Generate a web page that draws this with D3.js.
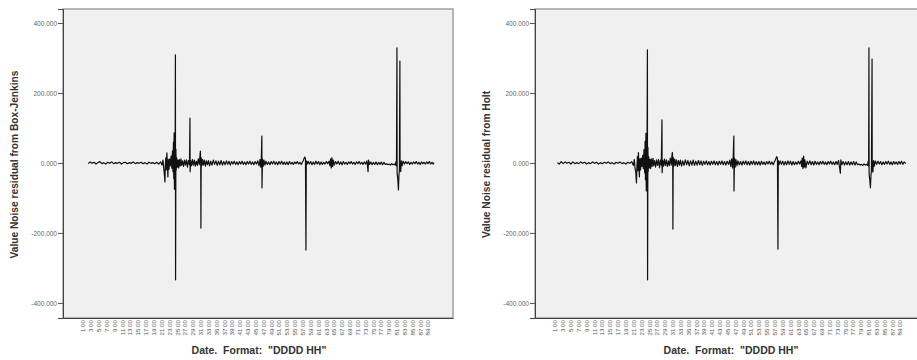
<!DOCTYPE html>
<html><head><meta charset="utf-8">
<script src="https://cdn.jsdelivr.net/npm/d3@7"></script>
<style>body{margin:0;background:#fff}svg{display:block}</style>
</head><body>
<svg id="chart" width="917" height="360"></svg>
<script>
// Hours since start of the series (x) and residual value (thousands, shown as 400.000 etc.)
const bjSeries = [[32,-2],[44,3],[56,-1],[68,2],[80,-3],[92,1],[104,4],[116,-2],[128,1],[140,-3],[152,2],[164,-1],[176,3],[188,-2],[200,1],[212,-1],[224,2],[236,-3],[248,1],[260,2],[272,-2],[284,1],[296,-1],[308,3],[320,-2],[332,1],[344,-1],[356,2],[368,-2],[380,1],[392,-3],[404,2],[416,-1],[428,1],[440,-2],[452,2],[464,-3],[476,3],[484,-6],
[490,8],[494,-12],[498,-30],[502,-54],[504,-10],[507,15],[510,-20],[514,29],[517,-5],[520,-40],[523,10],[527,-18],[531,12],[535,-8],[540,20],[544,-15],[548,35],[551,-25],[554,60],[556,-45],[558,86],[560,-75],[562,70],[564,-30],[566,309],[567,-334],[569,40],[571,-20],[574,15],[578,-12],[582,8],[586,-14],[590,10],[595,-9],[600,12],[605,-7],[610,6],[616,-10],[622,8],[628,-6],[634,9],[640,-12],[646,7],[652,-5],[655,128],[656,-25],[660,6],[665,-8],[670,10],[676,-6],[682,8],[688,-9],[694,5],[700,-7],[706,12],[712,-5],[716,20],[719,34],[721,-10],[722,-186],[724,15],[728,-8],[733,10],[738,-6],[744,8],[750,-9],[756,6],[762,-5],[768,7],[775,-8],[782,5],[790,-6],[798,8],[806,-4],[814,6],[822,-7],[830,5],[838,-5],[846,7],[854,-6],[862,4],[870,-5],[878,6],[886,-4],[894,5],[902,-6],[910,4],[918,-3],[926,5],[934,-4],[942,3],[950,-5],[958,4],[966,-3],[974,5],[982,-4],[990,3],[998,-5],[1006,4],[1014,-3],[1022,5],[1030,-4],[1038,3],[1046,-5],[1054,4],[1062,-3],[1070,6],[1078,-8],[1084,10],[1088,-12],[1092,15],[1095,77],[1096,-71],[1099,12],[1103,-10],[1108,8],[1114,-6],[1120,5],[1128,-4],[1136,3],[1144,-5],[1152,4],[1160,-3],[1168,5],[1176,-4],[1184,3],[1192,-5],[1200,4],[1208,-3],[1216,5],[1224,-4],[1232,3],[1240,-4],[1248,3],[1256,-5],[1264,4],[1272,-3],[1280,2],[1288,-4],[1296,3],[1304,-2],[1312,4],[1320,-3],[1328,2],[1336,-4],[1344,3],[1350,8],[1354,14],[1358,17],[1362,12],[1365,-249],[1367,6],[1372,-4],[1378,5],[1386,-3],[1394,4],[1402,-5],[1410,3],[1418,-4],[1426,5],[1434,-3],[1442,4],[1450,-5],[1458,3],[1466,-4],[1474,2],[1482,-3],[1490,4],[1498,-2],[1506,5],[1512,-8],[1516,12],[1520,-14],[1524,15],[1528,-10],[1532,8],[1538,-6],[1546,4],[1554,-3],[1562,5],[1570,-4],[1578,3],[1586,-5],[1594,4],[1602,-3],[1610,2],[1618,-4],[1626,3],[1634,-2],[1642,4],[1650,-3],[1658,2],[1666,-4],[1674,3],[1682,-2],[1690,4],[1698,-3],[1706,2],[1714,-4],[1722,3],[1730,-3],[1738,6],[1742,-10],[1745,-25],[1748,8],[1754,-4],[1762,3],[1770,-5],[1778,2],[1786,-4],[1794,3],[1802,-5],[1810,2],[1818,-4],[1826,3],[1834,-5],[1842,2],[1850,-4],[1858,-2],[1866,-5],[1874,-3],[1882,-6],[1890,-2],[1898,-5],[1906,-3],[1912,-6],[1916,4],[1919,-8],[1922,329],[1923,-30],[1927,-45],[1931,-77],[1934,-35],[1937,-20],[1940,291],[1941,-15],[1945,-25],[1949,6],[1954,-8],[1960,5],[1968,-3],[1976,4],[1984,-2],[1992,3],[2000,-4],[2008,2],[2016,-3],[2024,3],[2032,-2],[2040,4],[2048,-3],[2056,2],[2064,-4],[2072,3],[2080,-2],[2088,2],[2096,-3],[2104,3],[2112,-2],[2120,4],[2128,-3],[2136,2],[2144,-3],[2149,1]];

const holtSeries = [[14,1],[26,-3],[38,4],[50,-2],[62,3],[74,-1],[86,2],[98,-3],[110,3],[122,-2],[134,1],[146,-2],[158,3],[170,-1],[182,2],[194,-3],[206,1],[218,-2],[230,3],[242,-1],[254,2],[266,-3],[278,1],[290,-2],[302,2],[314,-1],[326,3],[338,-2],[350,1],[362,-3],[374,2],[386,-1],[398,3],[410,-2],[422,1],[434,-3],[446,2],[458,-1],[470,4],[480,-7],
[486,10],[490,-14],[495,-28],[499,-57],[502,-8],[505,18],[508,-22],[511,30],[514,-6],[517,-40],[520,12],[524,-20],[528,14],[532,-10],[537,22],[541,-16],[545,38],[549,-28],[552,62],[554,-48],[557,85],[559,-80],[561,72],[563,-35],[566,323],[567,-334],[569,45],[571,-24],[574,18],[578,-14],[582,10],[586,-16],[590,12],[595,-10],[600,13],[605,-8],[610,7],[616,-12],[622,9],[628,-7],[634,10],[640,-14],[646,8],[651,-6],[655,123],[656,-28],[660,7],[665,-9],[670,11],[676,-7],[682,9],[688,-10],[694,6],[700,-8],[706,14],[712,-6],[716,22],[719,30],[721,-12],[722,-189],[724,16],[728,-9],[733,11],[738,-7],[744,9],[750,-10],[756,7],[762,-6],[768,8],[775,-9],[782,6],[790,-7],[798,9],[806,-5],[814,7],[822,-8],[830,6],[838,-6],[846,8],[854,-7],[862,5],[870,-6],[878,7],[886,-5],[894,6],[902,-7],[910,5],[918,-4],[926,6],[934,-5],[942,4],[950,-6],[958,5],[966,-4],[974,6],[982,-5],[990,4],[998,-6],[1006,5],[1014,-4],[1022,6],[1030,-5],[1038,4],[1046,-6],[1054,5],[1062,-4],[1070,8],[1076,-10],[1082,12],[1087,-14],[1091,16],[1095,77],[1096,-80],[1099,14],[1103,-12],[1108,10],[1114,-8],[1120,6],[1128,-5],[1136,4],[1144,-6],[1152,5],[1160,-4],[1168,6],[1176,-5],[1184,4],[1192,-6],[1200,5],[1208,-4],[1216,6],[1224,-5],[1232,4],[1240,-5],[1248,4],[1256,-6],[1264,5],[1272,-4],[1280,3],[1288,-5],[1296,4],[1304,-3],[1312,5],[1320,-4],[1328,3],[1336,-5],[1344,4],[1350,9],[1354,15],[1358,18],[1362,13],[1365,-246],[1367,7],[1372,-5],[1378,6],[1386,-4],[1394,5],[1402,-6],[1410,4],[1418,-5],[1426,6],[1434,-4],[1442,5],[1450,-6],[1458,4],[1466,-5],[1474,3],[1482,-4],[1490,5],[1498,-3],[1506,6],[1510,-10],[1514,14],[1518,-16],[1522,20],[1526,-12],[1530,9],[1536,-14],[1544,5],[1552,-4],[1560,6],[1568,-5],[1576,4],[1584,-6],[1592,5],[1600,-4],[1608,3],[1616,-5],[1624,4],[1632,-3],[1640,5],[1648,-4],[1656,3],[1664,-5],[1672,4],[1680,-3],[1688,5],[1696,-4],[1704,3],[1712,-5],[1720,4],[1728,-4],[1736,7],[1742,-12],[1747,-29],[1750,9],[1756,-5],[1764,4],[1772,-6],[1780,3],[1788,-5],[1796,4],[1804,-6],[1812,3],[1820,-5],[1828,4],[1836,-6],[1844,3],[1852,-5],[1860,-3],[1868,-6],[1876,-4],[1884,-7],[1892,-3],[1900,-6],[1908,-4],[1914,-7],[1917,5],[1920,-9],[1922,329],[1923,-32],[1927,-48],[1931,-71],[1934,-38],[1937,-22],[1941,297],[1942,-16],[1946,-26],[1950,7],[1955,-9],[1961,6],[1969,-4],[1977,5],[1985,-3],[1993,4],[2001,-5],[2009,3],[2017,-4],[2025,4],[2033,-3],[2041,5],[2049,-4],[2057,3],[2065,-5],[2073,4],[2081,-3],[2089,3],[2097,-4],[2105,4],[2113,-3],[2121,5],[2129,-4],[2137,3],[2147,-2]];

// x tick positions (hours) and their "DDDD HH" labels
const xTickHours = d3.range(0, 2113, 48);
const xTickLabels = ["1 00","3 00","5 00","7 00","9 00","11 00","13 00","15 00","17 00","19 00","21 00","23 00","25 00","27 00","29 00","31 00","33 00","35 00","37 00","39 00","41 00","43 00","45 00","47 00","49 00","51 00","53 00","55 00","57 00","59 00","61 00","63 00","65 00","67 00","69 00","71 00","73 00","75 00","77 00","79 00","81 00","83 00","85 00","87 00","89 00"];
const yTickValues = [-400, -200, 0, 200, 400];
const yTickLabels = ["-400.000", "-200.000", "0.000", "200.000", "400.000"];

const panels = [
  {series: bjSeries, yTitle: "Value Noise residual from Box-Jenkins", left: 63},
  {series: holtSeries, yTitle: "Value Noise residual from Holt", left: 535}
];
const xTitle = "Date.  Format:  \"DDDD HH\"";

const svg = d3.select("#chart");
const plotW = 390, plotTop = 9, plotBottom = 318;

panels.forEach(p => {
  const x = d3.scaleLinear().domain([-122, 2265]).range([p.left, p.left + plotW]);
  const y = d3.scaleLinear().domain([-443, 440]).range([plotBottom, plotTop]);
  const g = svg.append("g");

  g.append("rect").attr("x", p.left).attr("y", plotTop).attr("width", plotW).attr("height", plotBottom - plotTop)
    .attr("fill", "#f0f0f0").attr("stroke", "#a0a0a0").attr("stroke-width", 1.5);

  const clipId = "clip" + p.left;
  svg.append("clipPath").attr("id", clipId).append("rect")
    .attr("x", p.left).attr("y", plotTop).attr("width", plotW).attr("height", plotBottom - plotTop);

  g.append("path").datum(p.series)
    .attr("clip-path", `url(#${clipId})`)
    .attr("fill", "none").attr("stroke", "#111").attr("stroke-width", 1.2)
    .attr("stroke-linejoin", "round")
    .attr("d", d3.line().x(d => x(d[0])).y(d => y(d[1])));

  const ya = g.append("g").attr("transform", `translate(${p.left},0)`)
    .call(d3.axisLeft(y).tickValues(yTickValues).tickSize(5).tickPadding(1)
      .tickFormat((d, i) => yTickLabels[i]));
  ya.select(".domain").attr("stroke", "#444");
  ya.selectAll(".tick line").attr("stroke", "#555");
  ya.selectAll("text").attr("font-family", "Arial, Liberation Sans, sans-serif")
    .attr("font-size", 6.5).attr("fill", "#666");

  const xa = g.append("g").attr("transform", `translate(0,${plotBottom})`)
    .call(d3.axisBottom(x).tickValues(xTickHours).tickSize(0).tickPadding(1)
      .tickFormat((d, i) => xTickLabels[i]));
  xa.select(".domain").attr("stroke", "#444");
  xa.selectAll("text").attr("font-family", "Arial, Liberation Sans, sans-serif")
    .attr("font-size", 6.2).attr("fill", "#555")
    .attr("text-anchor", "end").attr("dy", "0.32em")
    .attr("transform", "rotate(-90)").attr("x", -2).attr("y", 0);

  g.append("text").attr("transform", `translate(${p.left - 45},${(plotTop + plotBottom) / 2 + 1}) rotate(-90)`)
    .attr("text-anchor", "middle").attr("font-family", "Arial, Liberation Sans, sans-serif")
    .attr("font-weight", "bold").attr("font-size", 10.2).attr("fill", "#333").text(p.yTitle);

  g.append("text").attr("x", p.left + 196).attr("y", 354)
    .attr("text-anchor", "middle").attr("font-family", "Arial, Liberation Sans, sans-serif")
    .attr("font-weight", "bold").attr("font-size", 10.5).attr("fill", "#333")
    .attr("xml:space", "preserve").style("white-space", "pre").text(xTitle);
});
</script>
</body></html>
